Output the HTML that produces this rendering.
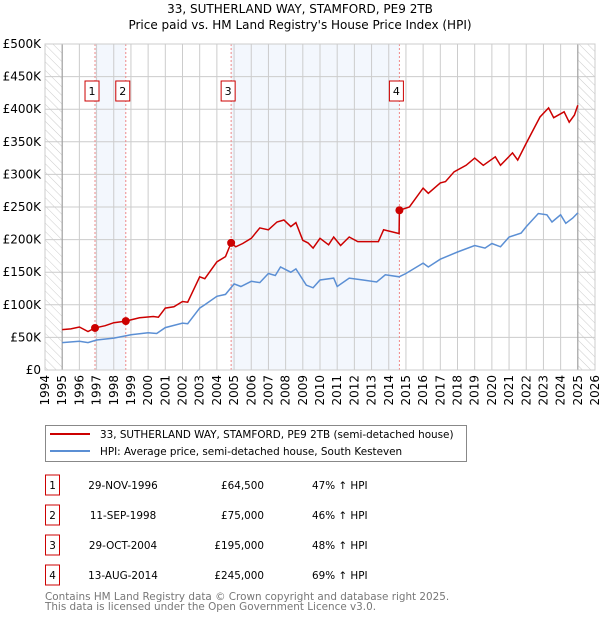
<!DOCTYPE html>
<html><head><meta charset="utf-8"><style>
body{margin:0;background:#fff;}
svg{display:block;font-family:"DejaVu Sans","Liberation Sans",sans-serif;}
</style></head><body>
<svg id="c" width="600" height="620">
<defs><pattern id="hatch" width="6" height="6" patternUnits="userSpaceOnUse" patternTransform="rotate(-45)"><line x1="0" y1="0" x2="0" y2="6" stroke="#ccc" stroke-width="1"/></pattern></defs>
<text x="300" y="13" text-anchor="middle" font-size="12">33, SUTHERLAND WAY, STAMFORD, PE9 2TB</text>
<text x="300" y="29" text-anchor="middle" font-size="12">Price paid vs. HM Land Registry's House Price Index (HPI)</text>
<g id="plot"></g>
<g>
<rect x="45.5" y="425.5" width="421" height="36" fill="#fff" stroke="#888"/>
<line x1="50" y1="434" x2="90" y2="434" stroke="#cc0000" stroke-width="2"/>
<text x="100" y="438" font-size="10.4">33, SUTHERLAND WAY, STAMFORD, PE9 2TB (semi-detached house)</text>
<line x1="50" y1="451" x2="90" y2="451" stroke="#5b8fd4" stroke-width="2"/>
<text x="100" y="455" font-size="10.4">HPI: Average price, semi-detached house, South Kesteven</text>
</g>
<g id="table" font-size="10.4"></g>
<text x="45" y="600" font-size="10.4" fill="#777">Contains HM Land Registry data © Crown copyright and database right 2025.</text>
<text x="45" y="610" font-size="10.4" fill="#777">This data is licensed under the Open Government Licence v3.0.</text>
</svg>
<script>
const yTicks=[0,50,100,150,200,250,300,350,400,450,500];
const yTickLabels=["£0","£50K","£100K","£150K","£200K","£250K","£300K","£350K","£400K","£450K","£500K"];
const xYears=[1994,1995,1996,1997,1998,1999,2000,2001,2002,2003,2004,2005,2006,2007,2008,2009,2010,2011,2012,2013,2014,2015,2016,2017,2018,2019,2020,2021,2022,2023,2024,2025,2026];
const hpiT=[1995,1996,1996.5,1997,1998,1999,2000,2000.5,2001,2002,2002.3,2003,2003.3,2004,2004.5,2005,2005.4,2006,2006.5,2007,2007.4,2007.7,2008.3,2008.6,2009.2,2009.6,2010,2010.8,2011,2011.7,2012.5,2013.3,2013.8,2014.6,2015,2016,2016.3,2017,2018,2019,2019.6,2020,2020.5,2021,2021.7,2022,2022.7,2023.2,2023.5,2024,2024.3,2024.7,2025];
const hpiV=[42,44,42,46,49,54,57,56,65,72,71,95,100,113,116,132,128,136,134,148,145,158,150,155,130,126,138,141,128,141,138,135,146,143,148,164,158,170,181,191,187,194,189,204,210,220,240,238,227,238,225,233,241];
const ppT=[1995,1995.5,1996,1996.5,1996.91,1997.5,1998,1998.7,1999.5,2000.3,2000.6,2001,2001.5,2002,2002.3,2003,2003.3,2004,2004.5,2004.83,2005.1,2005.5,2006,2006.5,2007,2007.5,2007.9,2008.3,2008.6,2009.0,2009.3,2009.6,2010,2010.5,2010.8,2011.2,2011.7,2012.2,2013.4,2013.7,2014.5,2014.6,2014.62,2015.2,2016,2016.3,2017,2017.3,2017.8,2018.5,2019,2019.5,2020.2,2020.5,2021.2,2021.5,2022,2022.4,2022.8,2023.3,2023.6,2024.2,2024.5,2024.8,2025];
const ppV=[62,63,66,59,64.5,68,72.5,75,80,82,81,95,97,105,104,143,140,166,174,195,189,194,202,218,215,227,230,220,226,199,195,187,202,192,204,191,204,197,197,215,210,209,245,250,279,271,287,289,304,314,325,314,327,314,333,322,348,368,388,402,387,396,380,391,406];
const saleT=[1996.91,1998.7,2004.83,2014.62];
const saleV=[64.5,75,195,245];
const saleDates=["29-NOV-1996","11-SEP-1998","29-OCT-2004","13-AUG-2014"];
const salePrices=["£64,500","£75,000","£195,000","£245,000"];
const salePct=["47% ↑ HPI","46% ↑ HPI","48% ↑ HPI","69% ↑ HPI"];

const NS="http://www.w3.org/2000/svg";
const X0=45,X1=595,Y0=370,Y1=44;
const xs=t=>X0+(t-1994)/(2026-1994)*(X1-X0);
const ys=v=>Y0-v/500*(Y0-Y1);
function mk(tag,attrs,parent){const e=document.createElementNS(NS,tag);for(const k in attrs)e.setAttribute(k,attrs[k]);parent.appendChild(e);return e;}
const g=document.getElementById('plot');
for(const [a,b] of [[0,1],[2,3]]){
 const r=mk('rect',{x:xs(saleT[a]),y:Y1,width:xs(saleT[b])-xs(saleT[a]),height:Y0-Y1,fill:'#eef3fc',opacity:0.7},g);
 
 
}
const h1=mk('rect',{x:X0,y:Y1,width:xs(1995)-X0,height:Y0-Y1,fill:'url(#hatch)'},g);


const h2=mk('rect',{x:xs(2025),y:Y1,width:X1-xs(2025),height:Y0-Y1,fill:'url(#hatch)'},g);


yTicks.forEach((v,i)=>{
 const l=mk('line',{x1:X0,x2:X1,y1:ys(v),y2:ys(v),stroke:'#ccc','stroke-width':1},g);
 
 
 const t=mk('text',{x:X0-4,y:ys(v)+4,'text-anchor':'end','font-size':12},g);
 t.textContent=yTickLabels[i];
 
 
});
xYears.forEach(yr=>{
 const l=mk('line',{x1:xs(yr),x2:xs(yr),y1:Y1,y2:Y0,stroke:'#ccc','stroke-width':1},g);
 
 
 const t=mk('text',{x:0,y:0,'font-size':12,'text-anchor':'end',transform:`translate(${xs(yr)+4},375) rotate(-90)`},g);
 t.textContent=yr;
 
 
});
const b1=mk('line',{x1:xs(1995),x2:xs(1995),y1:Y1,y2:Y0,stroke:'#999','stroke-width':1},g);


const b2=mk('line',{x1:xs(2025),x2:xs(2025),y1:Y1,y2:Y0,stroke:'#999','stroke-width':1},g);


saleT.forEach((t,i)=>{
 const l=mk('line',{x1:xs(t),x2:xs(t),y1:Y1,y2:Y0,stroke:'#e88','stroke-width':1,'stroke-dasharray':'2,2'},g);
 
 
 const bx=xs(t)-3;
 const r=mk('rect',{x:bx-7,y:81,width:14,height:20,fill:'#fff',stroke:'#cc0000'},g);
 
 
 const tx=mk('text',{x:bx,y:95,'text-anchor':'middle','font-size':11},g);
 tx.textContent=String(i+1);
 
 
});
const hp=mk('path',{d:hpiT.map((t,i)=>(i?'L':'M')+xs(t).toFixed(1)+','+ys(hpiV[i]).toFixed(1)).join(''),fill:'none',stroke:'#5b8fd4','stroke-width':1.5},g);


const pp=mk('path',{d:ppT.map((t,i)=>(i?'L':'M')+xs(t).toFixed(1)+','+ys(ppV[i]).toFixed(1)).join(''),fill:'none',stroke:'#cc0000','stroke-width':1.5},g);


saleT.forEach((t,i)=>{
 const c=mk('circle',{cx:xs(t),cy:ys(saleV[i]),r:4,fill:'#cc0000'},g);
 
 
});
const fr=mk('rect',{x:X0,y:Y1,width:X1-X0,height:Y0-Y1,fill:'none',stroke:'#ccc'},g);


const tb=document.getElementById('table');
saleT.forEach((t,i)=>{
 const cy=483+i*30;
 const r=mk('rect',{x:45.5,y:cy-8,width:14,height:20,fill:'#fff',stroke:'#cc0000'},tb);
 
 
 const n=mk('text',{x:52.5,y:cy+6,'text-anchor':'middle'},tb);n.textContent=String(i+1);
 
 
 const d=mk('text',{x:123,y:cy+6,'text-anchor':'middle'},tb);d.textContent=saleDates[i];
 
 
 const p=mk('text',{x:264,y:cy+6,'text-anchor':'end'},tb);p.textContent=salePrices[i];
 
 
 const q=mk('text',{x:312,y:cy+6},tb);q.textContent=salePct[i];
 
 
});
</script>
</body></html>
